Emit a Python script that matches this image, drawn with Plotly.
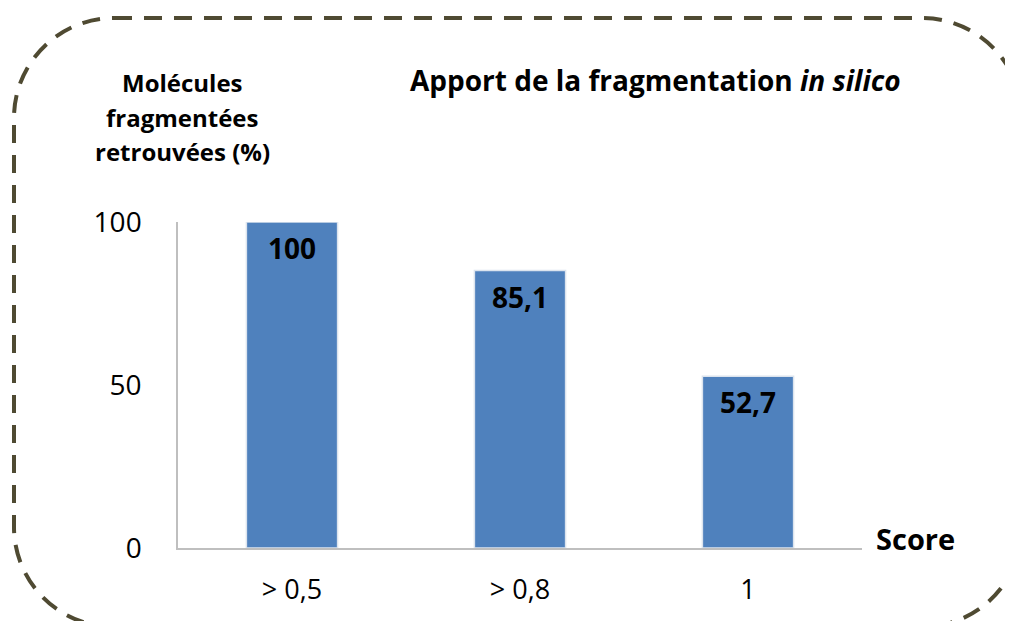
import plotly.graph_objects as go

categories = ["> 0,5", "> 0,8", "1"]
values = [100, 85.1, 52.7]
labels = ["100", "85,1", "52,7"]
ytitle_lines = ["Molécules", "fragmentées", "retrouvées (%)"]

# page body has an 8px margin, so the figure is drawn 8px smaller
OFF = 8
W, H = 1013 - OFF, 621 - OFF
L, R, T, B = 178 - OFF, 151, 222 - OFF, 73
PW, PH = W - L - R, H - T - B


def px(x, y):
    # reference pixel position -> paper coordinates
    x, y = x - OFF, y - OFF
    return (x - L) / PW, (H - B - y) / PH


def rounded_rect_path(x0, y0, x1, y1, r):
    k = 0.5523 * r
    pts = [
        ("M", [(x0 + r, y0)]),
        ("L", [(x1 - r, y0)]),
        ("C", [(x1 - r + k, y0), (x1, y0 + r - k), (x1, y0 + r)]),
        ("L", [(x1, y1 - r)]),
        ("C", [(x1, y1 - r + k), (x1 - r + k, y1), (x1 - r, y1)]),
        ("L", [(x0 + r, y1)]),
        ("C", [(x0 + r - k, y1), (x0, y1 - r + k), (x0, y1 - r)]),
        ("L", [(x0, y0 + r)]),
        ("C", [(x0, y0 + r - k), (x0 + r - k, y0), (x0 + r, y0)]),
    ]
    out = []
    for cmd, coords in pts:
        s = " ".join("%.5f,%.5f" % px(a, b) for a, b in coords)
        out.append(f"{cmd} {s}")
    return " ".join(out) + " Z"


FONT = "Open Sans"

fig = go.Figure(
    go.Bar(
        x=categories,
        y=values,
        width=0.4,
        marker=dict(color="#4F81BD", line=dict(color="#DCE4EE", width=1.5)),
        hoverinfo="skip",
    )
)

for i, (v, lab) in enumerate(zip(values, labels)):
    fig.add_annotation(
        x=i, y=v, text=f"<b>{lab}</b>", showarrow=False,
        yanchor="top", yshift=-5,
        font=dict(family=FONT, size=28, color="black"),
    )

# y title: three lines, a bit more spaced than plotly's <br>
for j, line in enumerate(ytitle_lines):
    bx, by = px(182, 82 + 35 * j)
    fig.add_annotation(
        xref="paper", yref="paper", x=bx, y=by,
        text=f"<b>{line}</b>",
        showarrow=False, xanchor="center", yanchor="middle",
        font=dict(family=FONT, size=24, color="black"),
    )

tx, ty = px(655, 80)
fig.add_annotation(
    xref="paper", yref="paper", x=tx, y=ty,
    text="<b>Apport de la fragmentation <i>in silico</i></b>",
    showarrow=False, xanchor="center", yanchor="middle",
    font=dict(family=FONT, size=28, color="black"),
)

sx, sy = px(874, 538)
fig.add_annotation(
    xref="paper", yref="paper", x=sx, y=sy,
    text="<b>Score</b>", showarrow=False,
    xanchor="left", yanchor="middle",
    font=dict(family=FONT, size=29, color="black"),
)

fig.add_shape(
    type="path", xref="paper", yref="paper",
    path=rounded_rect_path(14, 18, 1022, 627, 100),
    line=dict(color="#4F4A32", width=4, dash="18px,12px"),
    layer="below",
)

fig.update_xaxes(
    showline=True, linecolor="#BFBFBF", linewidth=1.5,
    showgrid=False, ticks="", ticklabelstandoff=17,
    tickfont=dict(family=FONT, size=27, color="black"),
)
fig.update_yaxes(
    range=[0, 100], tickvals=[0, 50, 100],
    showline=True, linecolor="#BFBFBF", linewidth=1.5,
    showgrid=False, zeroline=False, ticks="", ticklabelstandoff=29,
    tickfont=dict(family=FONT, size=28, color="black"),
)

fig.update_layout(
    width=W, height=H,
    margin=dict(l=L, r=R, t=T, b=B, autoexpand=False),
    plot_bgcolor="white", paper_bgcolor="white",
    showlegend=False, bargap=0.6,
)

fig.write_html("out.html")
